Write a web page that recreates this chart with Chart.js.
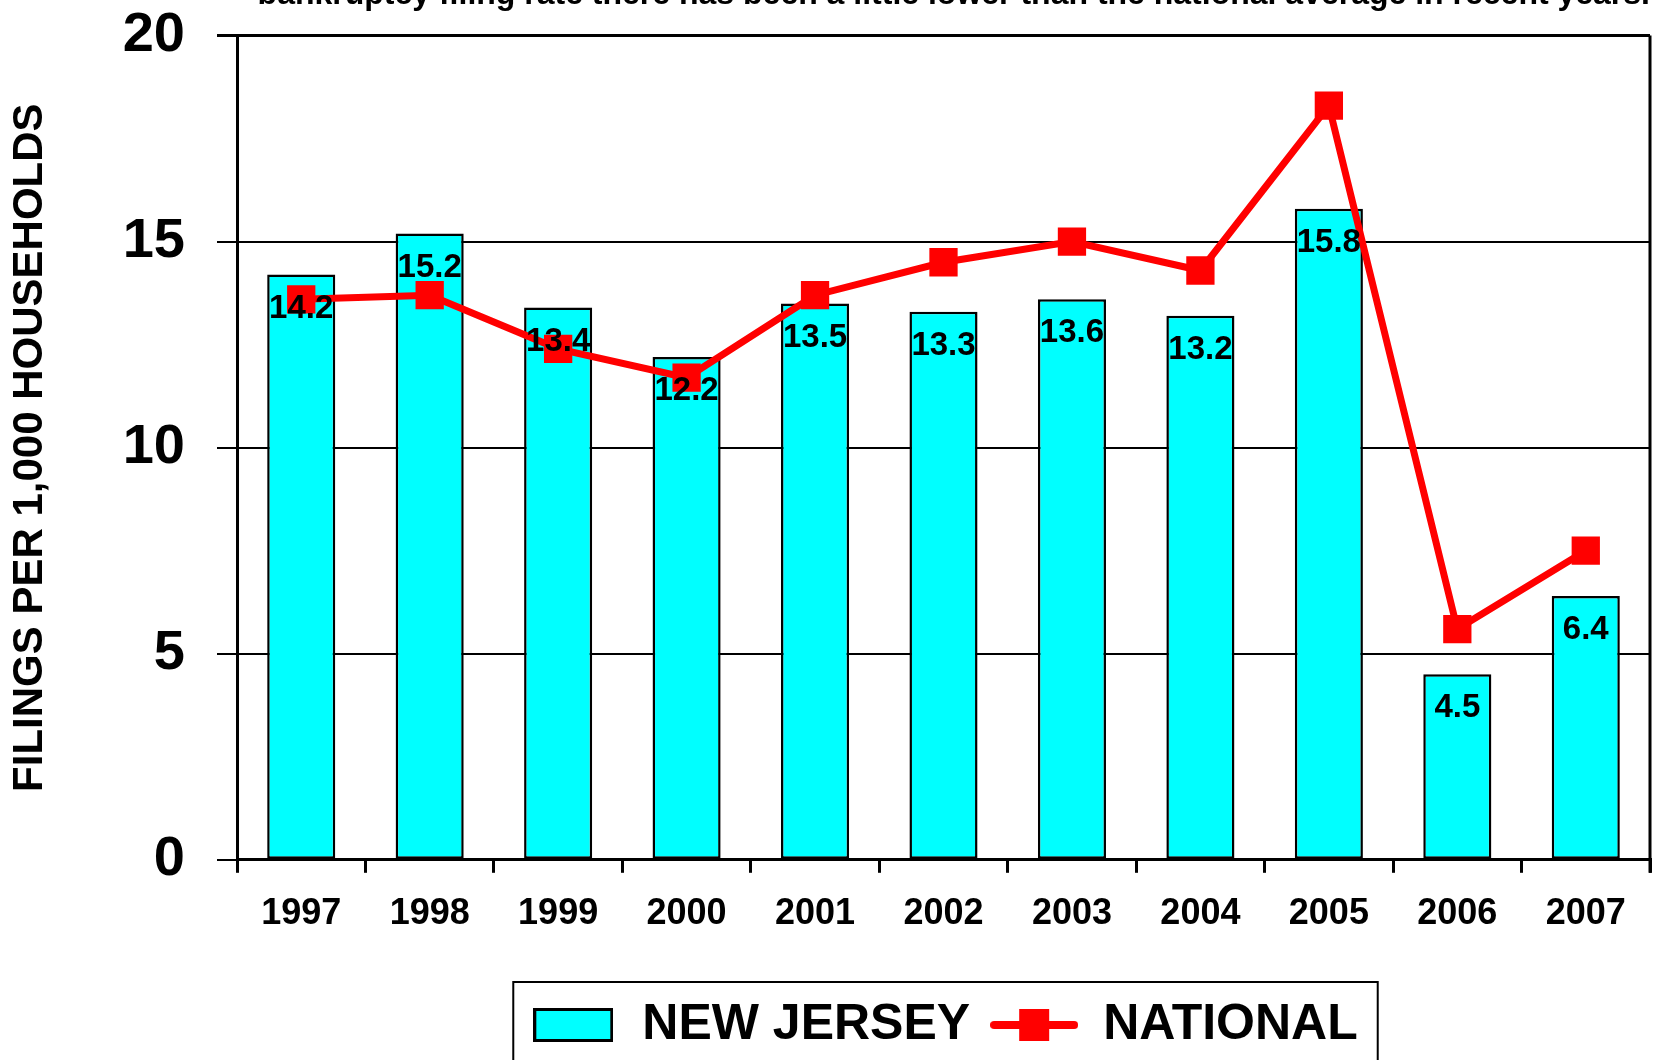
<!DOCTYPE html>
<html>
<head>
<meta charset="utf-8">
<title>Bankruptcy filings per 1,000 households</title>
<script src="https://cdn.jsdelivr.net/npm/chart.js@4"></script>
<style>
    html, body { margin: 0; padding: 0; background: #fff; overflow: hidden; }
    #wrap { position: absolute; left: 0; top: -30px; width: 1653px; height: 1090px; }
</style>
</head>
<body>
<div id="wrap"><canvas id="barchart"></canvas></div>
<script>
// filings per 1,000 households
var years = ["1997", "1998", "1999", "2000", "2001", "2002", "2003", "2004", "2005", "2006", "2007"];
var newJersey = [14.2, 15.2, 13.4, 12.2, 13.5, 13.3, 13.6, 13.2, 15.8, 4.5, 6.4];
var national = [13.6, 13.7, 12.4, 11.7, 13.7, 14.5, 15.0, 14.3, 18.3, 5.6, 7.5];
var yTicks = [0, 5, 10, 15, 20];

var FONT = "'Liberation Sans', Arial, sans-serif";

// legend swatches
function makeSwatch(kind) {
    var c = document.createElement("canvas");
    var g = c.getContext("2d");
    if (kind == "bar") {
        c.width = 80; c.height = 34;
        g.fillStyle = "#00FFFF";
        g.fillRect(1.5, 1.5, 77, 31);
        g.strokeStyle = "#000";
        g.lineWidth = 3;
        g.strokeRect(1.5, 1.5, 77, 31);
    } else {
        c.width = 88; c.height = 34;
        g.strokeStyle = "#FF0000";
        g.lineWidth = 8;
        g.lineCap = "round";
        g.beginPath();
        g.moveTo(4, 17); g.lineTo(84, 17);
        g.stroke();
        g.fillStyle = "#FF0000";
        g.fillRect(29, 1, 30, 32);
    }
    return c;
}
var swatches = [makeSwatch("bar"), makeSwatch("line")];

// value labels inside the top of each bar, drawn over the line
var barLabels = {
    id: "barLabels",
    afterDatasetsDraw: function(chart) {
        var ctx = chart.ctx;
        var meta = chart.getDatasetMeta(0);
        ctx.save();
        ctx.font = "bold 33px " + FONT;
        ctx.fillStyle = "#000";
        ctx.textAlign = "center";
        ctx.textBaseline = "middle";
        meta.data.forEach(function(bar, i) {
            ctx.fillText(newJersey[i].toFixed(1), bar.x, bar.y + 34);
        });
        ctx.restore();
    }
};

// frame around the legend, plus the right edge of the plot
var frames = {
    id: "frames",
    afterDraw: function(chart) {
        var ctx = chart.ctx;
        var a = chart.chartArea;
        ctx.save();
        ctx.strokeStyle = "#000";
        ctx.lineWidth = 3;
        ctx.beginPath();
        ctx.moveTo(a.right, a.top);
        ctx.lineTo(a.right, a.bottom + 13);
        ctx.stroke();

        var hb = chart.legend.legendHitBoxes;
        if (hb && hb.length) {
            var last = hb[hb.length - 1];
            var left = hb[0].left - 16;
            var right = last.left + last.width + 20;
            var top = hb[0].top - 18;
            ctx.lineWidth = 2;
            ctx.strokeRect(left, top, right - left, 200);
        }
        ctx.restore();
    }
};

var ctx = document.getElementById("barchart").getContext("2d");

var config = {
    type: "bar",
    data: {
        labels: years,
        datasets: [
            {
                label: "NEW JERSEY",
                data: newJersey,
                backgroundColor: "#00FFFF",
                borderColor: "#000",
                borderWidth: 2.5,
                borderSkipped: false,
                barPercentage: 0.53,
                categoryPercentage: 1.0,
                order: 1
            },
            {
                type: "line",
                label: "NATIONAL",
                data: national,
                borderColor: "#FF0000",
                borderWidth: 7,
                backgroundColor: "#FF0000",
                pointStyle: "rect",
                pointRadius: 20,
                pointBorderWidth: 0,
                pointBackgroundColor: "#FF0000",
                tension: 0,
                order: 0
            }
        ]
    },
    options: {
        responsive: true,
        maintainAspectRatio: false,
        animation: false,
        layout: { padding: { left: 0, top: 0, bottom: 0, right: 3 }, autoPadding: false },
        scales: {
            x: {
                offset: true,
                grid: {
                    display: true,
                    offset: true,
                    drawOnChartArea: false,
                    drawTicks: true,
                    tickLength: 13,
                    color: "#000",
                    lineWidth: 3
                },
                border: { display: true, color: "#000", width: 3 },
                ticks: {
                    color: "#000",
                    padding: 20,
                    maxRotation: 0,
                    font: { family: FONT, size: 36, weight: "bold" }
                }
            },
            y: {
                min: 0,
                max: 20,
                afterBuildTicks: function(scale) {
                    scale.ticks = yTicks.map(function(v) { return { value: v }; });
                },
                afterFit: function(scale) {
                    scale.width = 237;
                },
                grid: {
                    color: "#000",
                    lineWidth: function(c) { return c.tick && c.tick.value == 20 ? 3 : 2; },
                    drawTicks: true,
                    tickLength: 20
                },
                border: { display: true, color: "#000", width: 3 },
                ticks: {
                    color: "#000",
                    padding: 32,
                    font: { family: FONT, size: 56, weight: "bold" }
                },
                title: {
                    display: true,
                    text: "FILINGS PER 1,000 HOUSEHOLDS",
                    color: "#000",
                    padding: { top: 5, bottom: 0 },
                    font: { family: FONT, size: 42, weight: "bold" }
                }
            }
        },
        plugins: {
            title: {
                display: true,
                align: "end",
                text: "bankruptcy filing rate there has been a little lower than the national average in recent years.",
                color: "#000",
                padding: { top: 5, bottom: 21.6 },
                font: { family: FONT, size: 32, weight: "bold" }
            },
            legend: {
                display: true,
                position: "bottom",
                fullSize: false,
                align: "center",
                title: {
                    display: true,
                    text: " ",
                    padding: 6,
                    font: { size: 10 }
                },
                labels: {
                    usePointStyle: true,
                    pointStyleWidth: 88,
                    boxHeight: 34,
                    padding: 20,
                    color: "#000",
                    font: { family: FONT, size: 50, weight: "bold" },
                    sort: function(a, b) { return a.datasetIndex - b.datasetIndex; },
                    generateLabels: function(chart) {
                        var items = Chart.defaults.plugins.legend.labels.generateLabels(chart);
                        items.forEach(function(it) { it.pointStyle = swatches[it.datasetIndex]; });
                        return items;
                    }
                }
            },
            tooltip: { enabled: false }
        }
    },
    plugins: [barLabels, frames]
};

var barChart = new Chart(ctx, config);
</script>
</body>
</html>
